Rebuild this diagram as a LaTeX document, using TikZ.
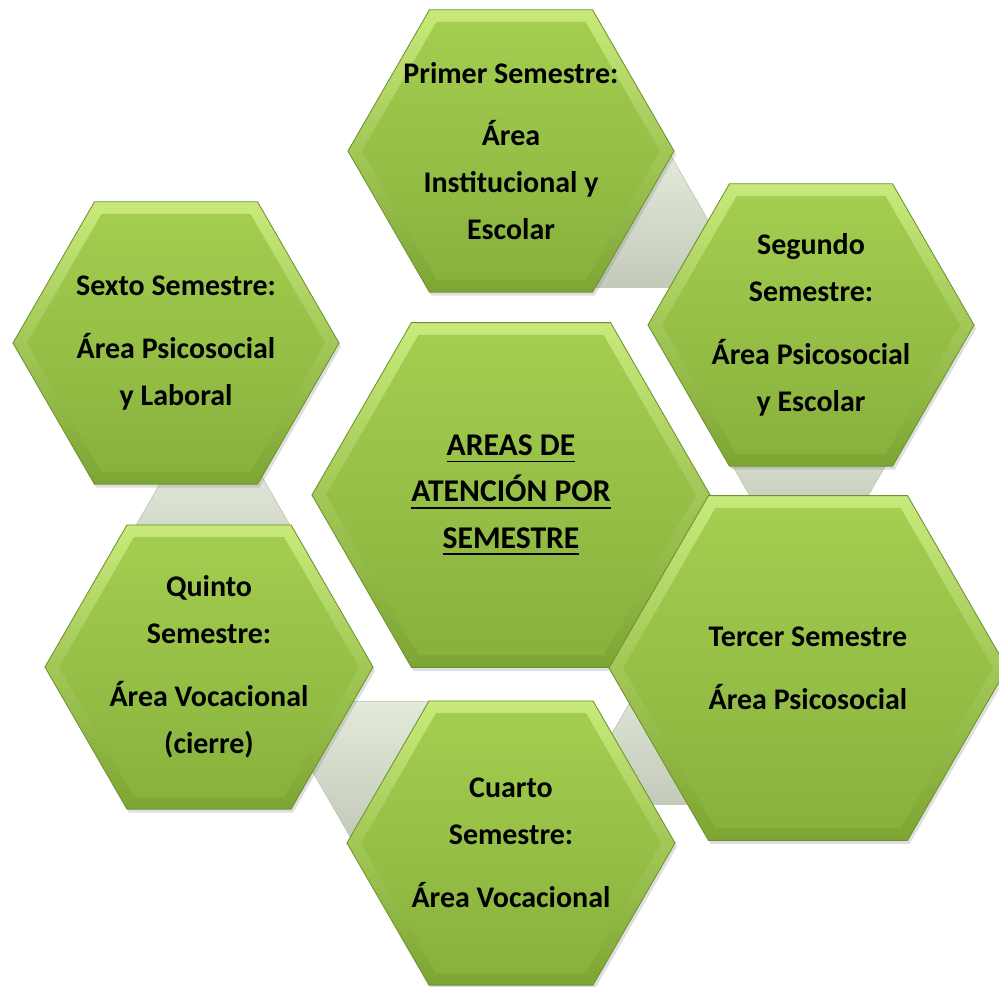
\documentclass[tikz,border=0pt]{standalone}
\usepackage{fontspec}
\setmainfont{Carlito}
\usetikzlibrary{shapes.geometric,shadows}

\definecolor{rimgreen}{HTML}{6A922E}
\definecolor{bevellight}{HTML}{C8EA7A}
\definecolor{beveldark}{HTML}{7DA534}
\definecolor{facelight}{HTML}{A4CF50}
\definecolor{facedark}{HTML}{87B03C}
\definecolor{jointlight}{HTML}{E4EADB}
\definecolor{jointdark}{HTML}{C3CAB9}
\definecolor{jointrim}{HTML}{B9C1AE}

\newcommand{\titleline}[1]{\setbox0=\hbox{#1}\rlap{\rule[-5pt]{\wd0}{1.3pt}}\box0}

\begin{document}
\begin{tikzpicture}[x=0.025cm,y=0.025cm,
  hexa/.style={regular polygon,regular polygon sides=6,minimum size=#1*0.05cm,
    inner sep=-20pt,
    draw=rimgreen,line width=0.6pt,top color=bevellight,bottom color=beveldark,
    drop shadow={opacity=0.25,shadow xshift=1.5pt,shadow yshift=-2.5pt},
    path picture={\shade[top color=facelight,bottom color=facedark]
      (path picture bounding box.center) +(0:{#1-14}) -- +(60:{#1-14}) -- +(120:{#1-14})
      -- +(180:{#1-14}) -- +(240:{#1-14}) -- +(300:{#1-14}) -- cycle;},
    align=center,font=\bfseries\fontsize{21.3}{33.5}\selectfont},
  joint/.style={regular polygon,regular polygon sides=6,minimum size=3.9cm,
    draw=jointrim,line width=0.4pt,top color=jointlight,bottom color=jointdark}]
  \tikzstyle{every node}+=[inner sep=0pt]
  \useasboundingbox (0,0) rectangle (999,-986);
  % grey joints between the semesters
  \node[joint] (j12) at (630,-220) {};
  \node[joint] (j23) at (809,-463) {};
  \node[joint] (j34) at (688,-737) {};
  \node[joint] (j45) at (389,-769) {};
  \node[joint] (j56) at (213,-527) {};
  % centre
  \node[hexa=199,font=\bfseries\fontsize{22.5}{33}\selectfont] (core) at (511,-495)
    {\titleline{AREAS DE}\\\titleline{ATENCIÓN POR}\\\titleline{SEMESTRE}};
  % semesters
  \node[hexa=163] (sem1) at (511,-151) {Primer Semestre:\\[11pt]Área\\Institucional y\\Escolar};
  \node[hexa=163] (sem2) at (811,-325) {Segundo\\Semestre:\\[11pt]Área Psicosocial\\y Escolar};
  \node[hexa=199] (sem3) at (808,-668) {Tercer Semestre\\[11pt]Área Psicosocial};
  \node[hexa=164] (sem4) at (511,-843) {Cuarto\\Semestre:\\[11pt]Área Vocacional};
  \node[hexa=164] (sem5) at (209,-667) {Quinto\\Semestre:\\[11pt]Área Vocacional\\(cierre)};
  \node[hexa=163] (sem6) at (176,-343) {Sexto Semestre:\\[11pt]Área Psicosocial\\y Laboral};
\end{tikzpicture}
\end{document}
